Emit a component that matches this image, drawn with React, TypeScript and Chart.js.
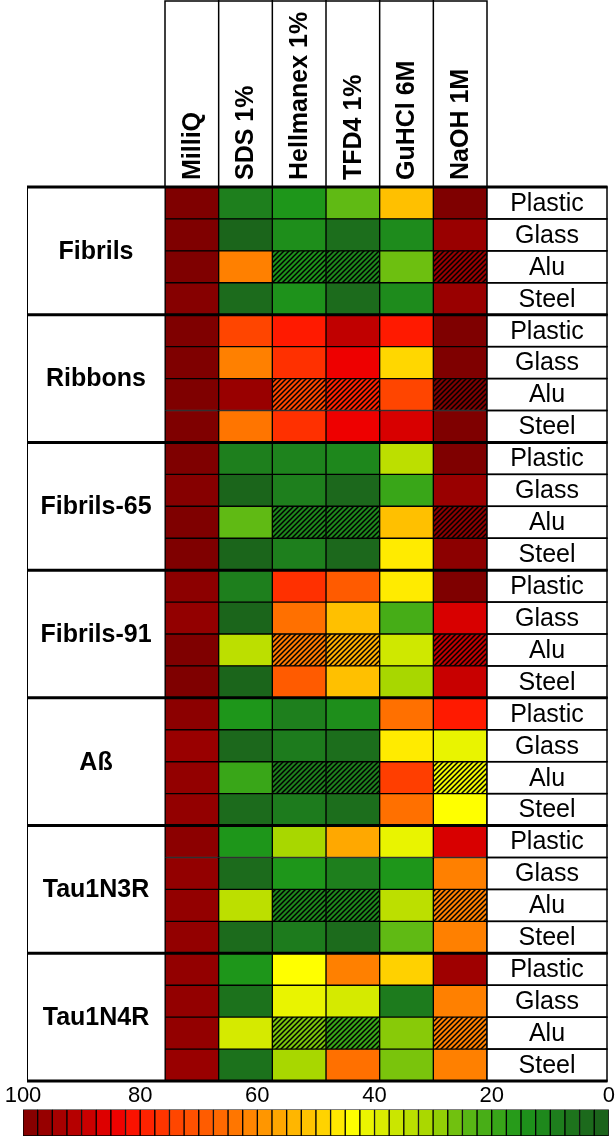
import { useEffect, useRef } from 'react';
import { Chart, registerables } from 'chart.js';

Chart.register(...registerables);

const columns = ['MilliQ', 'SDS 1%', 'Hellmanex 1%', 'TFD4 1%', 'GuHCl 6M', 'NaOH 1M'];
const groups = ['Fibrils', 'Ribbons', 'Fibrils-65', 'Fibrils-91', 'Aß', 'Tau1N3R', 'Tau1N4R'];
const surfaces = ['Plastic', 'Glass', 'Alu', 'Steel'];

// values per group: rows = surfaces, cols = columns (percentage scale 0-100)
const fibrils = [
  [100, 9, 15, 25, 52, 100],
  [100, 2, 13, 5, 12, 96],
  [100, 62, 14, 11, 26, 96],
  [99, 4, 14, 4, 12, 96],
];
const ribbons = [
  [100, 74, 80, 90, 80, 100],
  [100, 62, 77, 84, 48, 100],
  [100, 96, 74, 79, 74, 100],
  [100, 64, 77, 84, 87, 100],
];
const fibrils65 = [
  [100, 9, 10, 11, 34, 100],
  [99, 2, 9, 3, 19, 96],
  [100, 25, 11, 11, 52, 98],
  [100, 2, 9, 3, 46, 98],
];
const fibrils91 = [
  [98, 9, 77, 69, 46, 100],
  [97, 2, 65, 52, 21, 87],
  [100, 34, 63, 55, 37, 90],
  [100, 2, 69, 52, 31, 89],
];
const abeta = [
  [98, 15, 9, 13, 65, 80],
  [96, 3, 8, 5, 46, 41],
  [97, 19, 9, 9, 75, 42],
  [97, 4, 8, 5, 65, 44],
];
const tau1n3r = [
  [98, 15, 31, 56, 41, 87],
  [97, 4, 15, 9, 15, 62],
  [97, 34, 11, 11, 34, 62],
  [97, 4, 8, 4, 25, 62],
];
const tau1n4r = [
  [97, 15, 44, 62, 49, 95],
  [97, 6, 41, 38, 8, 62],
  [97, 38, 27, 19, 28, 62],
  [96, 6, 31, 65, 27, 62],
];
const groupValues = [fibrils, ribbons, fibrils65, fibrils91, abeta, tau1n3r, tau1n4r];

const hatchedSurface = 'Alu';
const hatchedColumns = [2, 3, 5];

const colorbarSteps = [
  98.75, 96.25, 93.75, 91.25, 88.75, 86.25, 83.75, 81.25, 78.75, 76.25,
  73.75, 71.25, 68.75, 66.25, 63.75, 61.25, 58.75, 56.25, 53.75, 51.25,
  48.75, 46.25, 43.75, 41.25, 38.75, 36.25, 33.75, 31.25, 28.75, 26.25,
  23.75, 21.25, 18.75, 16.25, 13.75, 11.25, 8.75, 6.25, 3.75, 1.25,
];

const colorStops: [number, string][] = [
  [0, '#1b5f1b'],
  [5, '#1c6e1c'],
  [10, '#1e831d'],
  [15, '#1e961a'],
  [20, '#40aa18'],
  [25, '#60ba14'],
  [30, '#a2d400'],
  [35, '#c2e200'],
  [40, '#e2f000'],
  [44, '#ffff00'],
  [48, '#ffd700'],
  [52, '#ffc000'],
  [56, '#ffa800'],
  [62, '#ff8000'],
  [68, '#ff5f00'],
  [74, '#ff4500'],
  [80, '#ff1a00'],
  [84, '#ee0000'],
  [88, '#d00000'],
  [92, '#b00000'],
  [96, '#990000'],
  [100, '#7f0000'],
];

const FONT = '"Liberation Sans", Arial, Helvetica, sans-serif';

function hexToRgb(h: string) {
  return [parseInt(h.slice(1, 3), 16), parseInt(h.slice(3, 5), 16), parseInt(h.slice(5, 7), 16)];
}

function colorFor(v: number) {
  for (let i = 1; i < colorStops.length; i++) {
    const [v1, c1] = colorStops[i];
    const [v0, c0] = colorStops[i - 1];
    if (v <= v1) {
      const t = (v - v0) / (v1 - v0);
      const a = hexToRgb(c0);
      const b = hexToRgb(c1);
      const m = a.map((x, k) => Math.round(x + (b[k] - x) * t));
      return `rgb(${m[0]},${m[1]},${m[2]})`;
    }
  }
  return colorStops[colorStops.length - 1][1];
}

function hatch(color: string) {
  const s = 5;
  const c = document.createElement('canvas');
  c.width = s;
  c.height = s;
  const g = c.getContext('2d')!;
  g.fillStyle = color;
  g.fillRect(0, 0, s, s);
  g.strokeStyle = '#000';
  g.lineWidth = 1.5;
  g.beginPath();
  g.moveTo(0, s);
  g.lineTo(s, 0);
  g.moveTo(-1, 1);
  g.lineTo(1, -1);
  g.moveTo(s - 1, s + 1);
  g.lineTo(s + 1, s - 1);
  g.stroke();
  return g.createPattern(c, 'repeat');
}

const LEFT_BOX_X = 27;
const RIGHT_BOX_X = 607;

const framePlugin = {
  id: 'frame',
  afterDatasetsDraw(chart: any) {
    const { ctx, chartArea: a, scales } = chart;
    const x = scales.x;
    const y = scales.y;
    const colX = (c: number) => x.getPixelForValue(c);
    const rowY = (r: number) => y.getPixelForValue(r - 0.5);
    const nRows = groups.length * surfaces.length;
    ctx.save();
    ctx.strokeStyle = '#000';
    ctx.fillStyle = '#000';

    // header boxes
    ctx.lineWidth = 1.5;
    ctx.strokeRect(colX(0), 1, colX(columns.length) - colX(0), a.top - 1);
    for (let c = 1; c < columns.length; c++) {
      ctx.beginPath();
      ctx.moveTo(colX(c), 0);
      ctx.lineTo(colX(c), a.top);
      ctx.stroke();
    }
    ctx.font = `bold 25px ${FONT}`;
    columns.forEach((label, c) => {
      ctx.save();
      ctx.translate((colX(c) + colX(c + 1)) / 2, a.top - 7);
      ctx.rotate(-Math.PI / 2);
      ctx.textAlign = 'left';
      ctx.textBaseline = 'middle';
      ctx.fillText(label, 0, 1);
      ctx.restore();
    });

    // left group boxes
    ctx.lineWidth = 1;
    ctx.textAlign = 'center';
    ctx.textBaseline = 'middle';
    groups.forEach((g, gi) => {
      const t = rowY(gi * surfaces.length);
      const b = rowY((gi + 1) * surfaces.length);
      ctx.strokeRect(LEFT_BOX_X + 0.5, t, colX(0) - LEFT_BOX_X - 0.5, b - t);
      ctx.font = `bold 25px ${FONT}`;
      ctx.fillText(g, (LEFT_BOX_X + colX(0)) / 2, (t + b) / 2 + 1);
    });

    // right surface boxes
    ctx.lineWidth = 1.5;
    for (let r = 0; r < nRows; r++) {
      const t = rowY(r);
      const b = rowY(r + 1);
      ctx.strokeRect(colX(columns.length), t, RIGHT_BOX_X - colX(columns.length), b - t);
      ctx.font = `25px ${FONT}`;
      ctx.fillText(surfaces[r % surfaces.length], (colX(columns.length) + RIGHT_BOX_X) / 2, (t + b) / 2 + 1);
    }

    // thick group separators
    ctx.lineWidth = 3;
    for (let gi = 0; gi <= groups.length; gi++) {
      const yy = rowY(gi * surfaces.length);
      ctx.beginPath();
      ctx.moveTo(LEFT_BOX_X, yy);
      ctx.lineTo(RIGHT_BOX_X + 0.5, yy);
      ctx.stroke();
    }
    ctx.restore();
  },
};

export default function App() {
  const mainRef = useRef<HTMLCanvasElement>(null);
  const barRef = useRef<HTMLCanvasElement>(null);

  useEffect(() => {
    const rows = groupValues.flat();
    const rowLabels = groups.flatMap((g) => surfaces.map((s) => `${g} ${s}`));

    const datasets = columns.map((col, c) => ({
      label: col,
      data: rows.map(() => 1),
      backgroundColor: rows.map((r, i) => {
        const color = colorFor(r[c]);
        const surf = surfaces[i % surfaces.length];
        return surf === hatchedSurface && hatchedColumns.includes(c) ? hatch(color) : color;
      }),
      borderColor: '#000',
      borderWidth: 1,
      borderSkipped: false,
      barPercentage: 1,
      categoryPercentage: 1,
      stack: 'cells',
    }));

    const main = new Chart(mainRef.current!, {
      type: 'bar',
      data: { labels: rowLabels, datasets: datasets as any },
      options: {
        indexAxis: 'y',
        animation: false,
        responsive: false,
        events: [],
        layout: { padding: { left: 165, right: 128, top: 187, bottom: 2 } },
        plugins: { legend: { display: false }, tooltip: { enabled: false } },
        scales: {
          x: { stacked: true, min: 0, max: columns.length, display: false },
          y: { stacked: true, display: false },
        },
      },
      plugins: [framePlugin],
    });

    const bar = new Chart(barRef.current!, {
      type: 'bar',
      data: {
        labels: colorbarSteps.map(String),
        datasets: [
          {
            data: colorbarSteps.map(() => 1),
            backgroundColor: colorbarSteps.map((v) => colorFor(v)),
            borderColor: '#000',
            borderWidth: 1,
            borderSkipped: false,
            barPercentage: 1,
            categoryPercentage: 1,
          } as any,
        ],
      },
      options: {
        animation: false,
        responsive: false,
        events: [],
        layout: { padding: { left: 23, right: 1, top: 0, bottom: 1 } },
        plugins: { legend: { display: false }, tooltip: { enabled: false } },
        scales: {
          x: { display: false },
          y: { display: false, min: 0, max: 1 },
          xTop: {
            type: 'linear',
            axis: 'x',
            position: 'top',
            offset: false,
            min: 0,
            max: 100,
            reverse: true,
            grid: { display: false, drawTicks: false, offset: false },
            border: { display: false },
            ticks: {
              stepSize: 20,
              padding: 0,
              maxRotation: 0,
              autoSkip: false,
              color: '#000',
              font: { family: FONT, size: 22 },
            },
          } as any,
        },
      },
    });

    return () => {
      main.destroy();
      bar.destroy();
    };
  }, []);

  return (
    <div style={{ position: 'absolute', left: 0, top: 0, width: 615, height: 1137, background: '#fff' }}>
      <canvas ref={mainRef} width={615} height={1083} style={{ position: 'absolute', left: 0, top: 0 }} />
      <canvas ref={barRef} width={615} height={54} style={{ position: 'absolute', left: 0, top: 1083 }} />
    </div>
  );
}
